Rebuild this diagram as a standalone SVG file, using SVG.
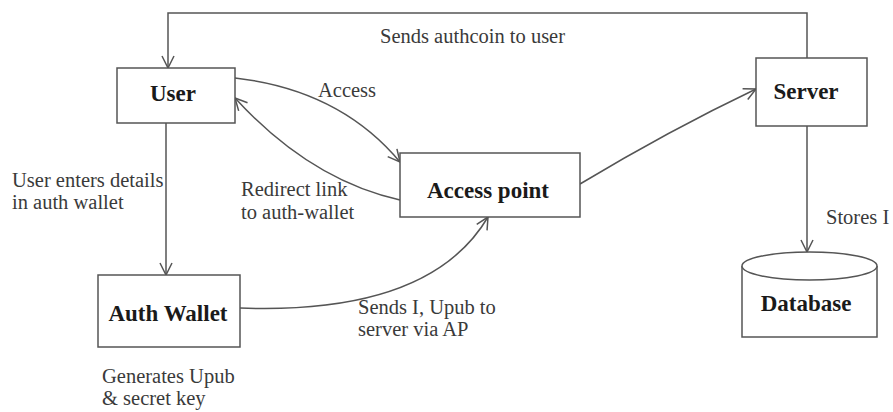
<svg xmlns="http://www.w3.org/2000/svg" width="893" height="412" viewBox="0 0 893 412">
<style>
.box{fill:#fff;stroke:#555;stroke-width:1.5}
.lbl{font-family:"Liberation Serif",serif;font-size:23px;font-weight:bold;fill:#1a1a1a;text-anchor:middle}
.txt{font-family:"Liberation Serif",serif;font-size:20.5px;fill:#3a3a3a}
.con{fill:none;stroke:#555;stroke-width:1.5}
</style>
<defs>
<marker id="arr" viewBox="0 0 14 14" refX="13" refY="7" markerWidth="14" markerHeight="14" markerUnits="userSpaceOnUse" orient="auto">
<path d="M1,1 L13,7 L1,13" fill="none" stroke="#555" stroke-width="1.5"/>
</marker>
</defs>
<rect width="893" height="412" fill="#fff"/>
<g id="connectors">
<path class="con" d="M807,58 L807,13 L168,13 L168,68" marker-end="url(#arr)"/>
<path class="con" d="M166,123 L166,275" marker-end="url(#arr)"/>
<path class="con" d="M235,78 Q340,90 400,162" marker-end="url(#arr)"/>
<path class="con" d="M400,200 Q310,180 235,98" marker-end="url(#arr)"/>
<path class="con" d="M580,184 Q670,130 756,89" marker-end="url(#arr)"/>
<path class="con" d="M240,308 Q430,315 488,217" marker-end="url(#arr)"/>
<path class="con" d="M807,126 L807,252" marker-end="url(#arr)"/>
</g>
<g id="user"><rect class="box" x="117" y="68" width="118" height="55"/><text class="lbl" x="173" y="101">User</text></g>
<g id="server"><rect class="box" x="756" y="58" width="111" height="68"/><text class="lbl" x="806" y="99">Server</text></g>
<g id="access-point"><rect class="box" x="400" y="153" width="180" height="64"/><text class="lbl" x="488" y="198">Access point</text></g>
<g id="auth-wallet"><rect class="box" x="98" y="275" width="142" height="72"/><text class="lbl" x="168" y="321">Auth Wallet</text></g>
<g id="database">
<path class="box" d="M742,266 L742,337 L877,337 L877,266"/>
<ellipse class="box" cx="809.5" cy="266" rx="67.5" ry="14"/>
<text class="lbl" x="806" y="311">Database</text>
</g>
<g id="labels">
<text class="txt" x="380" y="43">Sends authcoin to user</text>
<text class="txt" x="318" y="97">Access</text>
<text class="txt" x="12" y="187">User enters details</text>
<text class="txt" x="12" y="209">in auth wallet</text>
<text class="txt" x="241" y="196">Redirect link</text>
<text class="txt" x="241" y="219">to auth-wallet</text>
<text class="txt" x="826" y="224">Stores I</text>
<text class="txt" x="358" y="314">Sends I, Upub to</text>
<text class="txt" x="358" y="336">server via AP</text>
<text class="txt" x="102" y="383">Generates Upub</text>
<text class="txt" x="102" y="405">&amp; secret key</text>
</g>
</svg>
